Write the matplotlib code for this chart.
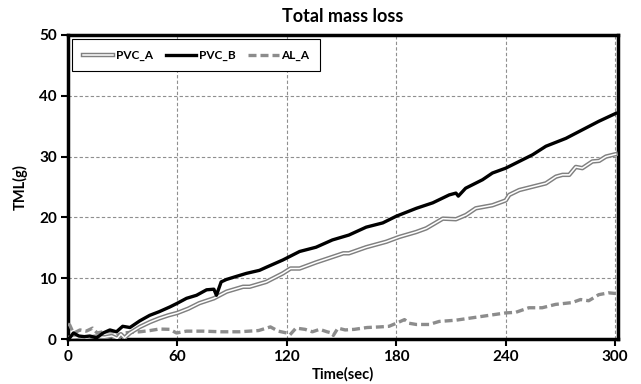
import matplotlib
matplotlib.use("Agg")
import matplotlib.pyplot as plt
from matplotlib.lines import Line2D
from matplotlib.legend_handler import HandlerTuple

plt.rcParams['font.family'] = ['Lato', 'DejaVu Sans']
plt.rcParams['font.weight'] = 'bold'

# PVC_B
t_b = [0, 1, 3, 6, 9, 12, 15.7, 19.3, 23, 26.6, 30, 34, 39.4, 44.8, 50, 56, 60, 65, 70.5, 76, 80,
       81.4, 84, 86.9, 92.3, 97.8, 105, 108.7, 117.8, 127, 136, 145, 154, 163.5, 172.6, 180, 181.7,
       191, 200, 209, 212.7, 214, 218, 227.3, 232.7, 240, 254.7, 262, 273, 282, 291, 300.3]
v_b = [0, 0.2, 1.0, 0.5, 0.4, 0.5, 0.2, 1.0, 1.5, 1.2, 2.1, 1.9, 3.0, 3.9, 4.5, 5.3, 5.9, 6.7, 7.2, 8.1, 8.2,
       7.2, 9.4, 9.8, 10.3, 10.8, 11.3, 11.8, 13.0, 14.4, 15.1, 16.3, 17.1, 18.4, 19.1, 20.2, 20.4,
       21.5, 22.4, 23.7, 24.0, 23.5, 24.8, 26.2, 27.3, 28.1, 30.3, 31.7, 33.0, 34.4, 35.8, 37.1]

# PVC_A
t_a = [0, 5, 10, 15, 20, 24, 27, 29, 31, 34, 39.4, 45, 50, 55, 60, 66, 72, 80, 87, 96, 99.6, 108.7,
       117.8, 122, 127, 136, 147, 151, 154, 163.5, 174.5, 181.7, 190.9, 196.4, 205.5, 212.7, 218.2,
       223.6, 232.7, 238.2, 240, 241.9, 247.4, 254.7, 262, 267.5, 271.1, 274.8, 278.4, 282, 287.5,
       291.2, 294.9, 300.3]
v_a = [0.2, 0.3, 0.2, 0.4, 0.3, 0.5, 0.1, 0.8, 0.2, 1.0, 2.0, 2.8, 3.4, 3.9, 4.3, 5.0, 5.9, 6.7, 7.8, 8.6, 8.6, 9.4,
       10.8, 11.6, 11.6, 12.6, 13.7, 14.1, 14.1, 15.1, 16.0, 16.8, 17.6, 18.2, 19.8, 19.7, 20.4,
       21.5, 22.0, 22.6, 22.8, 23.7, 24.5, 25.05, 25.6, 26.7, 27.0, 27.0, 28.3, 28.1, 29.2,
       29.3, 30.0, 30.4]

# AL_A
t_al = [0, 1, 3, 6.6, 10, 13.5, 16, 19.3, 23, 26.6, 28.5, 31, 34, 39.4, 45, 50, 55.8, 59.5, 65, 74, 84,
        94, 104.5, 111, 115.3, 120, 121.7, 125, 130, 134, 138, 142, 144.6, 145.5, 148, 152, 157, 164,
        171, 176, 180, 184.5, 187, 191, 198, 203.5, 212.6, 221.7, 230.8, 240, 245.5, 252.7, 260,
        267.3, 276.4, 281, 285.5, 291, 296.4, 300]
v_al = [2.5, 2.3, 0.95, 1.5, 1.3, 1.8, 1.0, 1.2, 1.2, 1.2, 0.3, 1.0, 1.1, 1.2, 1.4, 1.65, 1.6, 1.0, 1.3, 1.3, 1.2,
        1.2, 1.4, 2.0, 1.3, 1.0, 0.7, 1.8, 1.6, 1.2, 1.6, 1.2, 1.0, 0.6, 1.8, 1.5, 1.6, 1.9,
        2.0, 2.1, 2.6, 3.2, 2.6, 2.4, 2.4, 2.9, 3.1, 3.5, 3.9, 4.3, 4.4, 5.15, 5.15,
        5.7, 6.0, 6.5, 6.3, 7.3, 7.6, 7.5]

x_ticks = [0, 60, 120, 180, 240, 300]
y_ticks = [0, 10, 20, 30, 40, 50]

fig = plt.figure(figsize=(6.41, 3.84), dpi=100)
ax = fig.add_axes([0.106, 0.117, 0.858, 0.792])

ax.plot(t_al, v_al, color='#8c8c8c', lw=2.4, dashes=(2.4, 1.2), zorder=3)
ax.plot(t_a, v_a, color='#808080', lw=3.2, zorder=4, solid_joinstyle='round')
ax.plot(t_a, v_a, color='white', lw=1.1, zorder=5, solid_joinstyle='round')
ax.plot(t_b, v_b, color='black', lw=2.4, zorder=6, solid_joinstyle='round')

ax.set_xlim(0, 301.5)
ax.set_ylim(0, 50)
ax.set_xticks(x_ticks)
ax.set_yticks(y_ticks)
ax.grid(True, color='#8f8f8f', linestyle=(0, (3, 2)), linewidth=0.8)
ax.set_axisbelow(True)
for s in ax.spines.values():
    s.set_linewidth(2.5)
    s.set_color('black')
ax.tick_params(direction='out', length=5, width=1.5, labelsize=11, pad=3)
for lbl in ax.get_xticklabels() + ax.get_yticklabels():
    lbl.set_fontweight('bold')

ax.set_xlabel('Time(sec)', fontsize=10.5, fontweight='bold', labelpad=2)
ax.set_ylabel('TML(g)', fontsize=10.5, fontweight='bold', labelpad=8)
ax.set_title('Total mass loss', fontsize=13, fontweight='bold', pad=9)

h_a = (Line2D([], [], color='#808080', lw=3.2), Line2D([], [], color='white', lw=1.1))
h_b = Line2D([], [], color='black', lw=2.4)
h_al = Line2D([], [], color='#8c8c8c', lw=2.4, dashes=(2.4, 1.2))
leg = ax.legend([h_a, h_b, h_al], ['PVC_A', 'PVC_B', 'AL_A'],
                handler_map={tuple: HandlerTuple(ndivide=1, pad=0)},
                loc='upper left', ncol=3, fancybox=False, framealpha=1, edgecolor='black',
                prop={'weight': 'bold', 'size': 8.5}, handlelength=2.6, handletextpad=0.2,
                columnspacing=1.1, borderaxespad=0.35, borderpad=0.9)
leg.get_frame().set_linewidth(0.8)

fig.savefig('out.png', dpi=100)
